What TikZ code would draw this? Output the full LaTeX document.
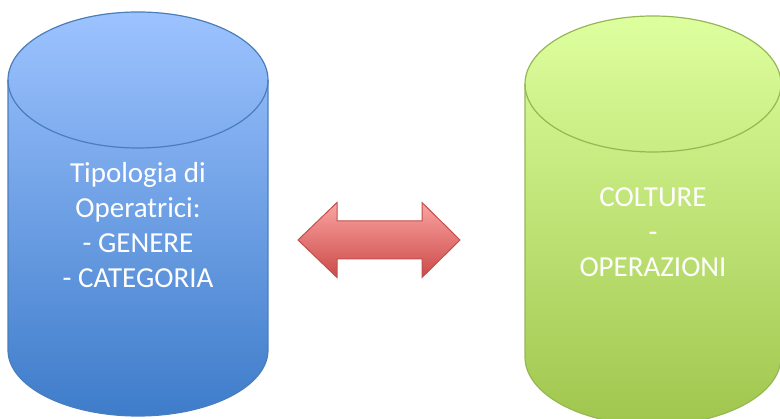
\documentclass[tikz,border=0pt]{standalone}
\usepackage{fontspec}
\setmainfont{Carlito}
\usepackage{xcolor}
\usepackage{tikz}

\definecolor{blueTop}{RGB}{157,195,255}
\definecolor{blueBot}{RGB}{62,124,202}
\definecolor{blueEdge}{RGB}{74,126,187}
\definecolor{greenTop}{RGB}{222,255,158}
\definecolor{greenBot}{RGB}{160,198,78}
\definecolor{greenEdge}{RGB}{150,184,84}
\definecolor{redTop}{RGB}{250,164,162}
\definecolor{redBot}{RGB}{204,74,72}
\definecolor{redEdge}{RGB}{192,80,77}

\tikzset{
    dbtext/.style={text=white, align=center, font=\fontsize{29}{35}\selectfont}
}

\begin{document}
\begin{tikzpicture}[x=1pt,y=1pt]
    \useasboundingbox (0,0) rectangle (780,419);
    \clip (0,0) rectangle (780,419);

    % Left cylinder
    \draw[blueEdge, line width=1.2pt, top color=blueTop, bottom color=blueBot]
        (8,339) -- (8,69) arc (180:360:130 and 66) -- (268,339) arc (0:180:130 and 68) -- cycle;
    \draw[blueEdge, line width=1.2pt] (8,339) arc (180:360:130 and 68);

    % Right cylinder
    \draw[greenEdge, line width=1.2pt, top color=greenTop, bottom color=greenBot]
        (525,335) -- (525,62) arc (180:360:128 and 68) -- (781,335) arc (0:180:128 and 68) -- cycle;
    \draw[greenEdge, line width=1.2pt] (525,335) arc (180:360:128 and 68);

    % Double arrow
    \draw[redEdge, line width=1pt, top color=redTop, bottom color=redBot]
        (298,179) -- (337,216.5) -- (337,198) -- (422,198) -- (422,216.5) -- (460,179)
        -- (422,141.5) -- (422,160) -- (337,160) -- (337,141.5) -- cycle;

    % Labels
    \node[dbtext] (typology) at (138,194) {Tipologia di\\Operatrici:\\- GENERE\\- CATEGORIA};
    \node[dbtext] (crops) at (653,187) {COLTURE\\-\\OPERAZIONI};

\end{tikzpicture}
\end{document}
